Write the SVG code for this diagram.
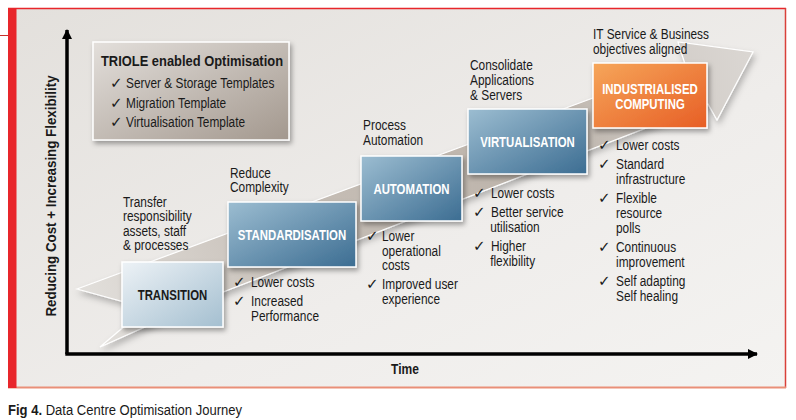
<svg xmlns="http://www.w3.org/2000/svg" width="796" height="420" viewBox="0 0 796 420">
<defs>
<linearGradient id="bg" x1="0" y1="0" x2="1" y2="1"><stop offset="0" stop-color="#e3e0dc"/><stop offset="0.6" stop-color="#efedeb"/><stop offset="1" stop-color="#f4f3f1"/></linearGradient>
<linearGradient id="rib" gradientUnits="userSpaceOnUse" x1="100" y1="320" x2="750" y2="60"><stop offset="0" stop-color="#e1deda"/><stop offset="0.3" stop-color="#c6beb6"/><stop offset="0.7" stop-color="#bcb3aa"/><stop offset="0.88" stop-color="#d2cdc8"/><stop offset="1" stop-color="#dad6d2"/></linearGradient>
<linearGradient id="gBlue" x1="0" y1="0" x2="1" y2="1"><stop offset="0" stop-color="#9cbdd1"/><stop offset="1" stop-color="#3c6d92"/></linearGradient>
<linearGradient id="gLight" x1="0" y1="0" x2="1" y2="1"><stop offset="0" stop-color="#edf2f6"/><stop offset="1" stop-color="#a4bfd0"/></linearGradient>
<linearGradient id="gOrange" x1="0" y1="0" x2="1" y2="1"><stop offset="0" stop-color="#f6a65a"/><stop offset="1" stop-color="#e75e25"/></linearGradient>
<linearGradient id="gTaupe" x1="0" y1="0" x2="1" y2="1"><stop offset="0" stop-color="#e3dfdb"/><stop offset="1" stop-color="#a3988e"/></linearGradient>
<filter id="sh" x="-10%" y="-10%" width="130%" height="140%"><feDropShadow dx="2" dy="3" stdDeviation="2.5" flood-color="#000" flood-opacity="0.35"/></filter>
<filter id="shr" x="-5%" y="-10%" width="115%" height="130%"><feDropShadow dx="2" dy="4" stdDeviation="3" flood-color="#000" flood-opacity="0.25"/></filter>
<marker id="ah" viewBox="0 0 10 10" refX="9" refY="5" markerWidth="10" markerHeight="10" markerUnits="userSpaceOnUse" orient="auto"><path d="M0,0 L10,5 L0,10 z" fill="#000"/></marker>
</defs>
<style>
.t{font-family:"Liberation Sans",Arial,sans-serif;font-size:14.5px;fill:#1a1a1a}
.b{font-weight:bold}
.w{fill:#ffffff}
.ck{font-family:"DejaVu Sans",sans-serif;font-size:15px;fill:#1a1a1a}
.box{stroke:#ffffff;stroke-width:1.5}
.lbl{font-family:"Liberation Sans",Arial,sans-serif;font-size:15px;font-weight:bold;text-anchor:middle}
</style>
<rect x="0" y="0" width="796" height="420" fill="#ffffff"/>
<g id="panel">
<rect x="8" y="8" width="778" height="380" fill="url(#bg)"/>
<line x1="8" y1="8.5" x2="786" y2="8.5" stroke="#e8262b" stroke-width="1.5"/>
<line x1="785.5" y1="8" x2="785.5" y2="388" stroke="#d9403a" stroke-width="1.5"/>
<line x1="8" y1="387.5" x2="786" y2="387.5" stroke="#e98f78" stroke-width="2"/>
<rect x="8" y="8" width="8.5" height="380" fill="#e8262b"/>
<line x1="0" y1="35.5" x2="8" y2="35.5" stroke="#c8302a" stroke-width="1"/>
</g>
<g id="connectors">
<polygon id="journey-arrow" points="77,289 685,64 678,42 753,52 717,120 708,104 223,292 100,347 146,308" fill="url(#rib)" stroke="#ffffff" stroke-width="1.2" stroke-linejoin="miter" filter="url(#shr)"/>
<line id="y-axis" x1="67" y1="354" x2="67" y2="30" stroke="#000" stroke-width="3.5" marker-end="url(#ah)"/>
<line id="x-axis" x1="65.3" y1="354" x2="757" y2="354" stroke="#000" stroke-width="3.5" marker-end="url(#ah)"/>
</g>
<g id="axis-labels">
<text class="t b" font-size="16" transform="translate(55.5,196) rotate(-90) scale(0.92,1)" text-anchor="middle" x="0" y="0">Reducing Cost + Increasing Flexibility</text>
<text class="t b" font-size="16" transform="matrix(0.83,0,0,1,68.85,0)" x="405" y="374" text-anchor="middle">Time</text>
</g>
<g id="triole">
<rect class="box" x="93" y="42" width="196" height="98" fill="url(#gTaupe)" filter="url(#sh)"/>
<text class="t b" x="192" y="66" text-anchor="middle" font-size="15" transform="matrix(0.89,0,0,1,21.12,0)">TRIOLE enabled Optimisation</text>
<text class="ck" x="110" y="88">✓</text>
<text class="ck" x="110" y="108">✓</text>
<text class="ck" x="110" y="127">✓</text>
<g transform="matrix(0.82,0,0,1,22.68,0)">
<text class="t" x="126" y="88">Server &amp; Storage Templates</text>
<text class="t" x="126" y="108">Migration Template</text>
<text class="t" x="126" y="127">Virtualisation Template</text>
</g>
</g>
<g id="transition">
<text class="t" transform="matrix(0.82,0,0,1,22.14,0)"><tspan x="123" y="207">Transfer</tspan><tspan x="123" y="221.5">responsibility</tspan><tspan x="123" y="236">assets, staff</tspan><tspan x="123" y="250.5">&amp; processes</tspan></text>
<rect class="box" x="122" y="262" width="101" height="65" fill="url(#gLight)" filter="url(#sh)"/>
<text class="lbl" x="172.5" y="300" fill="#1a1a1a" transform="matrix(0.76,0,0,1,41.4,0)">TRANSITION</text>
</g>
<g id="standardisation">
<text class="t" transform="matrix(0.82,0,0,1,41.4,0)"><tspan x="230" y="178">Reduce</tspan><tspan x="230" y="192.5">Complexity</tspan></text>
<rect class="box" x="228" y="202" width="128" height="65" fill="url(#gBlue)" filter="url(#sh)"/>
<text class="lbl w" x="292" y="240" transform="matrix(0.76,0,0,1,70.08,0)">STANDARDISATION</text>
<text class="ck" x="233" y="287">✓</text>
<text class="ck" x="233" y="306">✓</text>
<text class="t" transform="matrix(0.82,0,0,1,45.18,0)"><tspan x="251" y="287">Lower costs</tspan><tspan x="251" y="306">Increased</tspan><tspan x="251" y="321">Performance</tspan></text>
</g>
<g id="automation">
<text class="t" transform="matrix(0.82,0,0,1,65.34,0)"><tspan x="363" y="130">Process</tspan><tspan x="363" y="145">Automation</tspan></text>
<rect class="box" x="361" y="156" width="101" height="65" fill="url(#gBlue)" filter="url(#sh)"/>
<text class="lbl w" x="411.5" y="194" transform="matrix(0.76,0,0,1,98.76,0)">AUTOMATION</text>
<text class="ck" x="366" y="241">✓</text>
<text class="ck" x="366" y="289">✓</text>
<text class="t" transform="matrix(0.82,0,0,1,68.76,0)"><tspan x="382" y="241">Lower</tspan><tspan x="382" y="256">operational</tspan><tspan x="382" y="270">costs</tspan><tspan x="382" y="289">Improved user</tspan><tspan x="382" y="304">experience</tspan></text>
</g>
<g id="virtualisation">
<text class="t" transform="matrix(0.82,0,0,1,84.6,0)"><tspan x="470" y="70">Consolidate</tspan><tspan x="470" y="85">Applications</tspan><tspan x="470" y="100">&amp; Servers</tspan></text>
<rect class="box" x="468" y="109" width="119" height="65" fill="url(#gBlue)" filter="url(#sh)"/>
<text class="lbl w" x="527.5" y="147" transform="matrix(0.76,0,0,1,126.6,0)">VIRTUALISATION</text>
<text class="ck" x="473" y="198">✓</text>
<text class="ck" x="473" y="217">✓</text>
<text class="ck" x="473" y="251">✓</text>
<text class="t" transform="matrix(0.82,0,0,1,88.38,0)"><tspan x="491" y="198">Lower costs</tspan><tspan x="491" y="217">Better service</tspan><tspan x="490" y="232">utilisation</tspan><tspan x="491" y="251">Higher</tspan><tspan x="490" y="266">flexibility</tspan></text>
</g>
<g id="industrialised">
<text class="t" transform="matrix(0.82,0,0,1,106.74,0)"><tspan x="593" y="39">IT Service &amp; Business</tspan><tspan x="593" y="54">objectives aligned</tspan></text>
<rect class="box" x="593" y="63" width="114" height="65" fill="url(#gOrange)" filter="url(#sh)"/>
<text class="lbl w" transform="matrix(0.76,0,0,1,156,0)"><tspan x="650" y="94">INDUSTRIALISED</tspan><tspan x="650" y="109">COMPUTING</tspan></text>
<text class="ck" x="598" y="150">✓</text>
<text class="ck" x="598" y="169">✓</text>
<text class="ck" x="598" y="203">✓</text>
<text class="ck" x="598" y="252">✓</text>
<text class="ck" x="598" y="286">✓</text>
<text class="t" transform="matrix(0.82,0,0,1,110.88,0)"><tspan x="616" y="150">Lower costs</tspan><tspan x="616" y="169">Standard</tspan><tspan x="616" y="184">infrastructure</tspan><tspan x="616" y="203">Flexible</tspan><tspan x="616" y="218">resource</tspan><tspan x="616" y="233">polls</tspan><tspan x="616" y="252">Continuous</tspan><tspan x="616" y="267">improvement</tspan><tspan x="616" y="286">Self adapting</tspan><tspan x="616" y="301">Self healing</tspan></text>
</g>
<g id="caption">
<text class="t" font-size="14" x="8" y="415" transform="matrix(0.9,0,0,1,0.8,0)"><tspan class="b">Fig 4.</tspan> Data Centre Optimisation Journey</text>
</g>
</svg>
